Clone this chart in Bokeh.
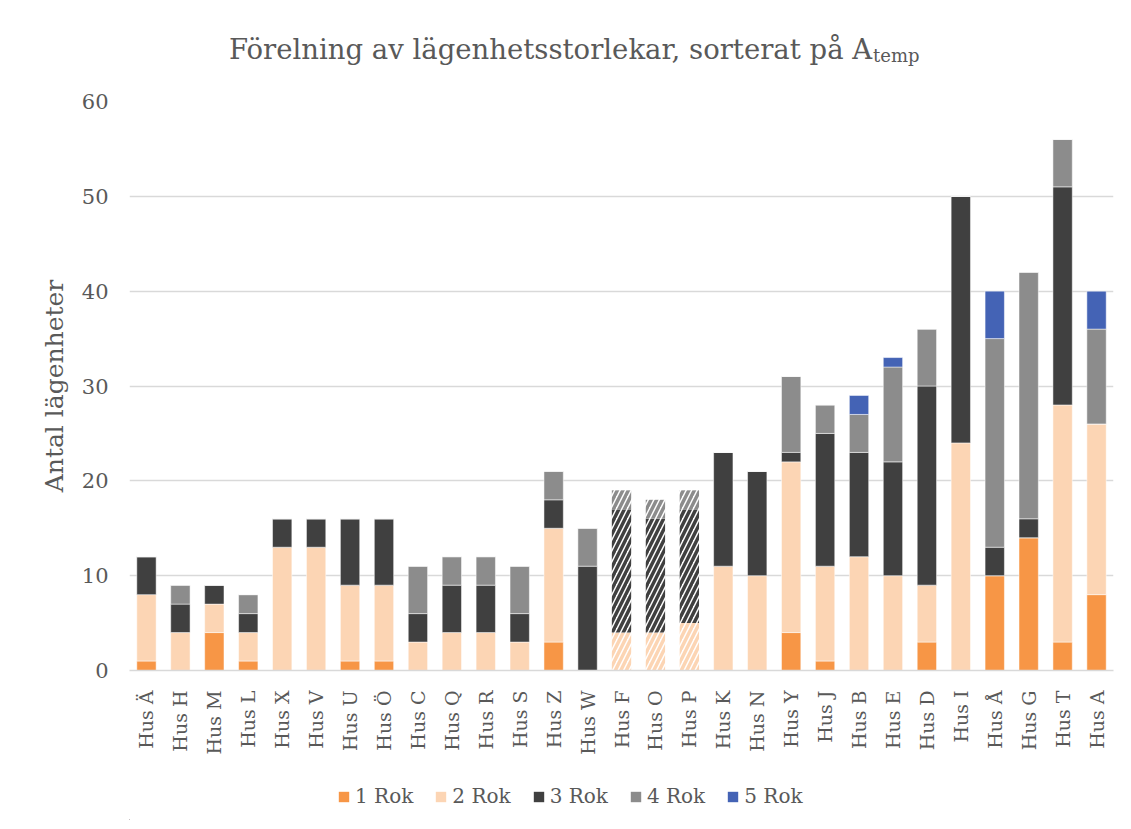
from bokeh.plotting import figure
from bokeh.layouts import column
from bokeh.models import ColumnDataSource, Legend, LegendItem, Label, FactorRange, Range1d
from bokeh.embed import file_html
from bokeh.resources import INLINE
from math import pi

houses = ["Hus Ä", "Hus H", "Hus M", "Hus L", "Hus X", "Hus V", "Hus U", "Hus Ö", "Hus C", "Hus Q",
          "Hus R", "Hus S", "Hus Z", "Hus W", "Hus F", "Hus O", "Hus P", "Hus K", "Hus N", "Hus Y",
          "Hus J", "Hus B", "Hus E", "Hus D", "Hus I", "Hus Å", "Hus G", "Hus T", "Hus A"]
rok1 = [1, 0, 4, 1, 0, 0, 1, 1, 0, 0, 0, 0, 3, 0, 0, 0, 0, 0, 0, 4, 1, 0, 0, 3, 0, 10, 14, 3, 8]
rok2 = [7, 4, 3, 3, 13, 13, 8, 8, 3, 4, 4, 3, 12, 0, 4, 4, 5, 11, 10, 18, 10, 12, 10, 6, 24, 0, 0, 25, 18]
rok3 = [4, 3, 2, 2, 3, 3, 7, 7, 3, 5, 5, 3, 3, 11, 13, 12, 12, 12, 11, 1, 14, 11, 12, 21, 26, 3, 2, 23, 0]
rok4 = [0, 2, 0, 2, 0, 0, 0, 0, 5, 3, 3, 5, 3, 4, 2, 2, 2, 0, 0, 8, 3, 4, 10, 6, 0, 22, 26, 5, 10]
rok5 = [0, 0, 0, 0, 0, 0, 0, 0, 0, 0, 0, 0, 0, 0, 0, 0, 0, 0, 0, 0, 0, 2, 1, 0, 0, 5, 0, 0, 4]
hatched = ["Hus F", "Hus O", "Hus P"]
series = ["1 Rok", "2 Rok", "3 Rok", "4 Rok", "5 Rok"]
colors = ["#F79646", "#FCD5B4", "#404040", "#8C8C8C", "#4463B5"]
y_ticks = [0, 10, 20, 30, 40, 50, 60]
title_main = "Förelning av lägenhetsstorlekar, sorterat på A"
title_sub = "temp"
y_label = "Antal lägenheter"

keys = ["r1", "r2", "r3", "r4", "r5"]
vals = [rok1, rok2, rok3, rok4, rok5]


def make_source(sel):
    d = {"x": [h for h in houses if sel(h)]}
    for k, v in zip(keys, vals):
        d[k] = [v[i] for i, h in enumerate(houses) if sel(h)]
    return ColumnDataSource(d)


src_norm = make_source(lambda h: h not in hatched)
src_hat = make_source(lambda h: h in hatched)

TXT = "#595959"
FONT = "DejaVu Serif"
W = 1115
FL, FR = 129, 1113.5   # frame edges (shared by all strips, which the column aligns)


def blank_fig(h):
    f = figure(width=W, height=h, x_range=Range1d(FL, FR), y_range=Range1d(0, h),
               output_backend="svg", toolbar_location=None,
               x_axis_location=None, y_axis_location=None,
               min_border_left=0, min_border_right=0, min_border_top=0, min_border_bottom=0)
    f.grid.visible = False
    f.outline_line_color = None
    return f


# ---- title strip ----
ft = blank_fig(89)
ft.add_layout(Label(x=872, y=41, text=title_main,
                    text_font=FONT, text_font_size="27.5px", text_color=TXT,
                    text_baseline="alphabetic", text_align="right"))
ft.add_layout(Label(x=873, y=34, text=title_sub,
                    text_font=FONT, text_font_size="18px", text_color=TXT,
                    text_baseline="alphabetic", text_align="left"))

# ---- main chart ----
p = figure(x_range=FactorRange(*houses), y_range=Range1d(0, 60),
           width=W, height=683, output_backend="svg", toolbar_location=None,
           min_border_left=129, min_border_right=2, min_border_top=12, min_border_bottom=102)
p.x_range.range_padding = 0

p.vbar_stack(keys, x="x", width=0.57, source=src_norm, color=colors,
             line_color="white", line_width=0.5)
p.vbar_stack(keys, x="x", width=0.57, source=src_hat, fill_color="white",
             line_color=None, hatch_pattern="/", hatch_color=colors,
             hatch_scale=11, hatch_weight=3.5)

p.xgrid.grid_line_color = None
p.ygrid.grid_line_color = "#D9D9D9"
p.ygrid.grid_line_width = 1.5
p.yaxis.ticker = y_ticks
p.outline_line_color = None

p.xaxis.axis_line_color = "#D9D9D9"
p.xaxis.axis_line_width = 1.5
p.xaxis.major_tick_line_color = None
p.xaxis.minor_tick_line_color = None
p.xaxis.major_label_orientation = pi / 2
p.xaxis.major_label_text_font = FONT
p.xaxis.major_label_text_font_size = "19px"
p.xaxis.major_label_text_color = TXT
p.xaxis.major_label_standoff = 14

p.yaxis.axis_line_color = None
p.yaxis.major_tick_line_color = None
p.yaxis.minor_tick_line_color = None
p.yaxis.major_label_text_font = FONT
p.yaxis.major_label_text_font_size = "21px"
p.yaxis.major_label_text_color = TXT
p.yaxis.major_label_standoff = 15
p.yaxis.axis_label = y_label
p.yaxis.axis_label_text_font = FONT
p.yaxis.axis_label_text_font_size = "25px"
p.yaxis.axis_label_text_font_style = "normal"
p.yaxis.axis_label_text_color = TXT
p.yaxis.axis_label_standoff = 10

# ---- legend strip (proxy swatches sit outside the visible range) ----
fl = blank_fig(48)
leg_rs = [fl.vbar(x=[0], top=[1], width=1, fill_color=c, line_color=None) for c in colors]
legend = Legend(items=[LegendItem(label=s, renderers=[r]) for s, r in zip(series, leg_rs)],
                orientation="horizontal", location=(208, 12),
                label_text_font=FONT, label_text_font_size="20px", label_text_color=TXT,
                glyph_width=13, glyph_height=13, label_standoff=5, spacing=21,
                border_line_color=None, background_fill_alpha=0, padding=4, margin=0)
fl.add_layout(legend, "center")

layout = column(ft, p, fl, spacing=0)
open("out.html", "w").write(file_html(layout, INLINE))
